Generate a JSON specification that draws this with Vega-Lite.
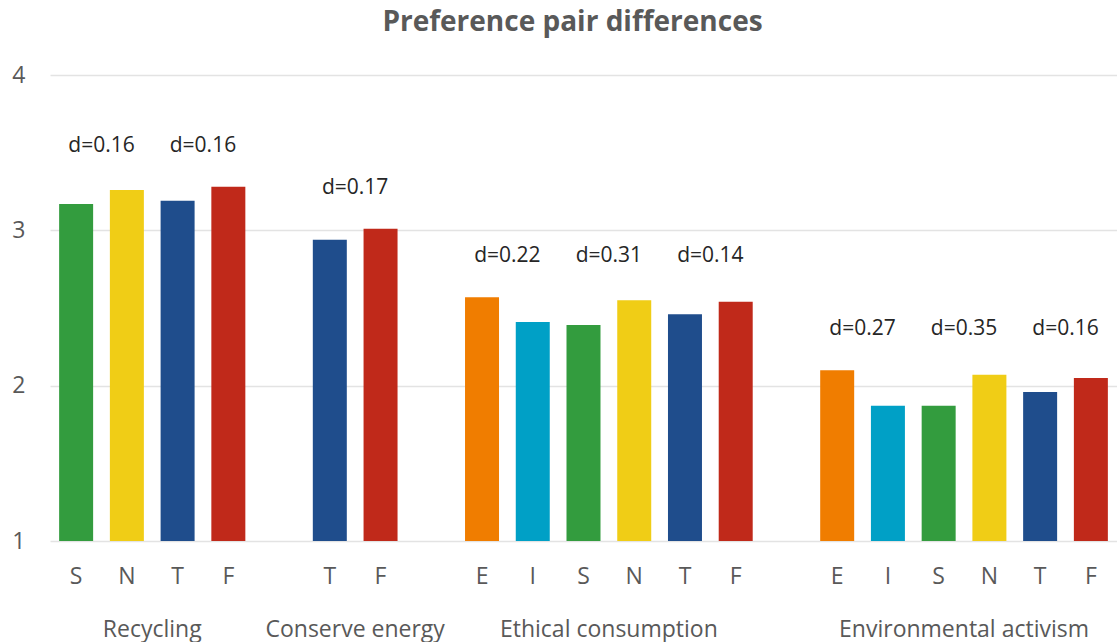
{
  "$schema": "https://vega.github.io/schema/vega-lite/v6.json",
  "width": 1067,
  "height": 466,
  "padding": {"left": 11, "top": 9, "right": 0, "bottom": 0},
  "background": "white",
  "config": {"font": "Open Sans", "view": {"stroke": null}},
  "title": {"text": "Preference pair differences", "fontSize": 28, "fontWeight": "bold", "color": "#595959", "anchor": "middle", "frame": "group", "dx": -11, "offset": 27},
  "datasets": {
    "bars": [
      {"slot": "Recycling|S", "group": "Recycling", "type": "S", "value": 3.17, "d": "d=0.16"},
      {"slot": "Recycling|N", "group": "Recycling", "type": "N", "value": 3.26},
      {"slot": "Recycling|T", "group": "Recycling", "type": "T", "value": 3.19, "d": "d=0.16"},
      {"slot": "Recycling|F", "group": "Recycling", "type": "F", "value": 3.28},
      {"slot": "Conserve energy|T", "group": "Conserve energy", "type": "T", "value": 2.94, "d": "d=0.17"},
      {"slot": "Conserve energy|F", "group": "Conserve energy", "type": "F", "value": 3.01},
      {"slot": "Ethical consumption|E", "group": "Ethical consumption", "type": "E", "value": 2.57, "d": "d=0.22"},
      {"slot": "Ethical consumption|I", "group": "Ethical consumption", "type": "I", "value": 2.41},
      {"slot": "Ethical consumption|S", "group": "Ethical consumption", "type": "S", "value": 2.39, "d": "d=0.31"},
      {"slot": "Ethical consumption|N", "group": "Ethical consumption", "type": "N", "value": 2.55},
      {"slot": "Ethical consumption|T", "group": "Ethical consumption", "type": "T", "value": 2.46, "d": "d=0.14"},
      {"slot": "Ethical consumption|F", "group": "Ethical consumption", "type": "F", "value": 2.54},
      {"slot": "Environmental activism|E", "group": "Environmental activism", "type": "E", "value": 2.10, "d": "d=0.27"},
      {"slot": "Environmental activism|I", "group": "Environmental activism", "type": "I", "value": 1.87},
      {"slot": "Environmental activism|S", "group": "Environmental activism", "type": "S", "value": 1.87, "d": "d=0.35"},
      {"slot": "Environmental activism|N", "group": "Environmental activism", "type": "N", "value": 2.07},
      {"slot": "Environmental activism|T", "group": "Environmental activism", "type": "T", "value": 1.96, "d": "d=0.16"},
      {"slot": "Environmental activism|F", "group": "Environmental activism", "type": "F", "value": 2.05}
    ],
    "groups": [
      {"slot": "Recycling|N", "group": "Recycling"},
      {"slot": "Conserve energy|T", "group": "Conserve energy"},
      {"slot": "Ethical consumption|S", "group": "Ethical consumption"},
      {"slot": "Environmental activism|S", "group": "Environmental activism"}
    ]
  },
  "layer": [
    {
      "data": {"name": "bars"},
      "mark": {"type": "bar"},
      "encoding": {
        "x": {
          "field": "slot", "type": "nominal", "sort": null,
          "scale": {
            "domain": ["Recycling|S", "Recycling|N", "Recycling|T", "Recycling|F", "gap1", "Conserve energy|T", "Conserve energy|F", "gap2", "Ethical consumption|E", "Ethical consumption|I", "Ethical consumption|S", "Ethical consumption|N", "Ethical consumption|T", "Ethical consumption|F", "gap3", "Environmental activism|E", "Environmental activism|I", "Environmental activism|S", "Environmental activism|N", "Environmental activism|T", "Environmental activism|F"],
            "paddingInner": 0.33, "paddingOuter": 0.18
          },
          "axis": {
            "title": null, "labelAngle": 0, "ticks": false, "domain": false, "grid": false,
            "labelFontSize": 23, "labelColor": "#595959", "labelPadding": 24,
            "labelExpr": "indexof(datum.label, '|') > 0 ? split(datum.label, '|')[1] : ''"
          }
        },
        "y": {
          "field": "value", "type": "quantitative",
          "scale": {"domain": [1, 4], "nice": false, "zero": false},
          "axis": {
            "title": null, "values": [1, 2, 3, 4], "format": "d", "ticks": false, "domain": false,
            "grid": true, "gridColor": "#E3E3E3", "gridWidth": 1.5,
            "labelFontSize": 23, "labelColor": "#595959", "labelPadding": 25
          }
        },
        "y2": {"datum": 1},
        "color": {
          "field": "type", "type": "nominal",
          "scale": {"domain": ["S", "N", "T", "F", "E", "I"], "range": ["#339C3E", "#F0CD16", "#1F4D8C", "#C0291A", "#F07D00", "#00A0C6"]},
          "legend": null
        }
      }
    },
    {
      "data": {"name": "bars"},
      "transform": [
        {"joinaggregate": [{"op": "max", "field": "value", "as": "gmax"}], "groupby": ["group"]},
        {"filter": "isValid(datum.d)"}
      ],
      "mark": {"type": "text", "fontSize": 21, "color": "#262626", "baseline": "alphabetic", "align": "center", "dy": -35},
      "encoding": {
        "x": {"field": "slot", "type": "nominal", "bandPosition": 1.246},
        "y": {"field": "gmax", "type": "quantitative"},
        "text": {"field": "d"}
      }
    },
    {
      "data": {"name": "groups"},
      "mark": {"type": "text", "fontSize": 23, "color": "#595959", "baseline": "alphabetic", "align": "center"},
      "encoding": {
        "x": {"field": "slot", "type": "nominal", "bandPosition": 1.246},
        "y": {"datum": 0.383},
        "text": {"field": "group"}
      }
    }
  ]
}
